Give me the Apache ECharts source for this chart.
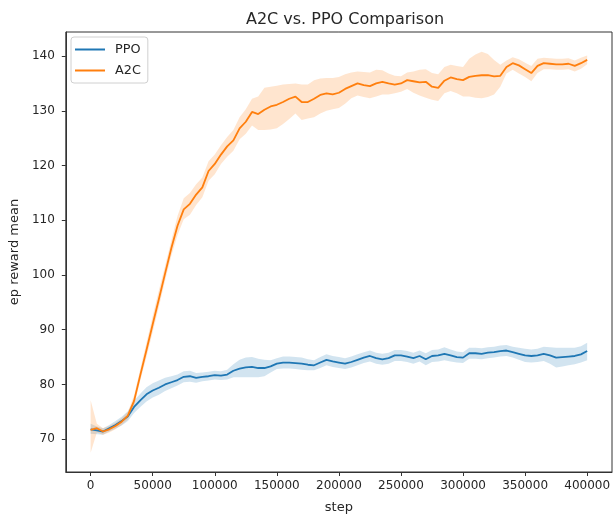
<!DOCTYPE html>
<html>
<head>
<meta charset="utf-8">
<script src="https://cdn.jsdelivr.net/npm/echarts@6/dist/echarts.min.js"></script>
<style>
  html, body { margin: 0; padding: 0; background: #fff; }
  #chart { width: 613px; height: 519px; }
</style>
</head>
<body>
<div id="chart"></div>
<script>
// steps, every 5000 from 0 to 400000
const steps = [
  0, 5000, 10000, 15000, 20000, 25000, 30000, 35000, 40000, 45000,
  50000, 55000, 60000, 65000, 70000, 75000, 80000, 85000, 90000, 95000,
  100000, 105000, 110000, 115000, 120000, 125000, 130000, 135000, 140000, 145000,
  150000, 155000, 160000, 165000, 170000, 175000, 180000, 185000, 190000, 195000,
  200000, 205000, 210000, 215000, 220000, 225000, 230000, 235000, 240000, 245000,
  250000, 255000, 260000, 265000, 270000, 275000, 280000, 285000, 290000, 295000,
  300000, 305000, 310000, 315000, 320000, 325000, 330000, 335000, 340000, 345000,
  350000, 355000, 360000, 365000, 370000, 375000, 380000, 385000, 390000, 395000,
  400000
]

const ppoMean = [
  71.8, 71.6, 71.4, 72.0, 72.6, 73.3, 74.2, 75.9, 77.1, 78.2,
  78.9, 79.4, 80.0, 80.4, 80.8, 81.4, 81.5, 81.2, 81.4, 81.5,
  81.7, 81.6, 81.8, 82.5, 82.9, 83.1, 83.2, 83.0, 83.0, 83.3,
  83.8, 84.0, 84.0, 83.9, 83.8, 83.6, 83.5, 84.0, 84.5, 84.2,
  84.0, 83.8, 84.1, 84.5, 84.9, 85.2, 84.8, 84.6, 84.8, 85.3,
  85.3, 85.1, 84.8, 85.2, 84.6, 85.2, 85.3, 85.6, 85.3, 85.0,
  84.9, 85.7, 85.7, 85.6, 85.8, 85.9, 86.1, 86.2, 85.9, 85.6,
  85.3, 85.2, 85.3, 85.6, 85.3, 84.9, 85.0, 85.1, 85.2, 85.5,
  86.1
]
const ppoLow = [
  71.0, 70.9, 70.8, 71.4, 71.9, 72.5, 73.3, 74.8, 75.9, 76.9,
  77.6, 78.1, 78.8, 79.3, 79.8, 80.4, 80.5, 80.3, 80.6, 80.7,
  80.9, 80.8, 80.9, 81.3, 81.3, 81.3, 81.3, 81.3, 81.5, 82.2,
  82.8, 82.9, 82.9, 82.8, 82.7, 82.6, 82.6, 83.0, 83.5, 83.2,
  83.0, 82.8, 83.1, 83.5, 83.9, 84.2, 83.8, 83.6, 83.8, 84.3,
  84.3, 84.1, 83.8, 84.2, 83.5, 84.1, 84.2, 84.4, 84.2, 84.0,
  83.9, 84.7, 84.7, 84.6, 84.8, 84.9, 85.1, 85.2, 84.9, 84.5,
  84.1, 84.0, 84.1, 84.3, 83.8, 83.1, 83.3, 83.5, 83.7, 84.0,
  84.4
]
const ppoHigh = [
  72.8, 72.3, 72.0, 72.6, 73.3, 74.1, 75.1, 77.0, 78.3, 79.5,
  80.2, 80.7, 81.2, 81.5, 81.8, 82.4, 82.5, 82.1, 82.2, 82.3,
  82.5, 82.4, 82.7, 83.7, 84.5, 84.9, 85.0, 84.7, 84.5, 84.4,
  84.8, 85.1, 85.1, 85.0, 84.9, 84.6, 84.4, 85.0, 85.5, 85.2,
  85.0, 84.8, 85.1, 85.5, 85.9, 86.2, 85.8, 85.6, 85.8, 86.3,
  86.3, 86.1, 85.8, 86.2, 85.7, 86.3, 86.4, 86.8, 86.4, 86.0,
  85.9, 86.7, 86.7, 86.6, 86.8, 86.9, 87.1, 87.2, 86.9, 86.7,
  86.5, 86.4, 86.5, 86.9, 86.8, 86.7, 86.7, 86.7, 86.7, 87.0,
  87.6
]

const a2cMean = [
  71.7, 72.0, 71.4, 71.8, 72.4, 73.2, 74.3, 77.0, 81.7, 86.3,
  91.0, 95.6, 100.3, 104.9, 109.0, 112.0, 113.0, 114.7, 116.0, 119.0,
  120.3, 122.0, 123.5, 124.6, 126.8, 128.0, 129.8, 129.4, 130.2, 130.8,
  131.1, 131.6, 132.2, 132.6, 131.6, 131.6, 132.2, 132.9, 133.2, 133.0,
  133.3, 134.0, 134.5, 135.0, 134.7, 134.5, 135.0, 135.3, 135.0, 134.8,
  135.0, 135.6, 135.4, 135.2, 135.3, 134.4, 134.2, 135.5, 136.1, 135.8,
  135.6, 136.2, 136.4, 136.5, 136.5, 136.3, 136.4, 138.0, 138.7, 138.3,
  137.6, 136.9, 138.2, 138.7, 138.6, 138.5, 138.5, 138.6, 138.2, 138.7,
  139.3
]
const a2cLow = [
  67.5, 71.2, 70.8, 71.2, 71.8, 72.6, 73.6, 76.0, 80.7, 85.0,
  89.6, 94.2, 99.0, 103.5, 107.3, 110.2, 111.0, 112.8, 114.2, 117.2,
  118.4, 120.3, 121.6, 122.7, 124.8, 125.8, 127.3, 126.5, 126.5, 126.6,
  126.8, 127.6, 128.5, 129.5, 128.3, 128.6, 128.8, 129.5, 130.0, 130.3,
  130.5, 131.3, 132.3, 132.8, 132.5, 132.3, 132.6, 133.0, 133.0, 133.2,
  133.5, 134.0, 133.3, 132.8, 132.4, 132.0, 131.8, 133.2, 133.6, 133.2,
  132.6, 132.6, 132.4, 132.3, 132.5, 133.0, 134.4, 136.8, 137.5, 136.8,
  136.2, 135.4, 136.9, 137.6, 137.6, 137.5, 137.5, 137.6, 137.2, 137.7,
  138.5
]
const a2cHigh = [
  77.1, 72.8, 72.0, 72.4, 73.0, 73.8, 75.0, 78.0, 82.8, 87.6,
  92.5, 97.2, 101.7, 106.3, 110.8, 114.0, 115.0, 116.6, 117.8, 120.8,
  122.0, 123.7, 125.2, 126.5, 128.8, 130.3, 132.2, 132.6, 134.2, 134.4,
  134.6, 134.8, 134.9, 135.0, 134.8, 134.8, 135.6, 135.9, 136.0, 136.0,
  136.2, 136.7, 137.0, 137.2, 137.1, 137.0, 137.5, 137.4, 136.8, 136.4,
  136.3, 137.0, 137.2, 137.5, 137.6, 136.9, 136.7, 138.0, 138.4, 138.2,
  138.0, 139.5, 140.3, 140.8, 140.4, 139.3, 138.4, 139.2, 139.8, 139.4,
  138.8, 138.2, 139.5, 139.7, 139.6, 139.5, 139.5, 139.6, 139.2, 139.7,
  140.1
]

const xTicks = [0, 50000, 100000, 150000, 200000, 250000, 300000, 350000, 400000]
const yTicks = [70, 80, 90, 100, 110, 120, 130, 140]

const BLUE = '#1f77b4'
const ORANGE = '#ff7f0e'
const FONT = 'DejaVu Sans'

const pairs = (ys) => steps.map((s, i) => [s, ys[i]])

// filled band between low and high, drawn as one polygon through the axis scales
const band = (name, lo, hi, fill) => ({
  name: name, type: 'custom', silent: true, z: 1,
  coordinateSystem: 'cartesian2d',
  data: [[steps[0], lo[0]]],
  renderItem: (params, api) => {
    const top = steps.map((s, i) => api.coord([s, hi[i]]))
    const bottom = steps.map((s, i) => api.coord([s, lo[i]])).reverse()
    return {
      type: 'polygon',
      shape: { points: top.concat(bottom) },
      style: { fill: fill, stroke: null }
    }
  }
})

const chart = echarts.init(document.getElementById('chart'))
chart.setOption({
  animation: false,
  backgroundColor: '#fff',
  textStyle: { fontFamily: FONT },
  title: {
    text: 'A2C vs. PPO Comparison',
    left: 340, top: 7, textAlign: 'center',
    textStyle: { fontFamily: FONT, fontSize: 16, fontWeight: 'normal', color: '#262626' }
  },
  legend: {
    data: [
      { name: 'PPO', icon: 'rect' },
      { name: 'A2C', icon: 'rect' }
    ],
    orient: 'vertical',
    left: 71, top: 37,
    itemWidth: 30, itemHeight: 2, itemGap: 8,
    padding: [6, 7, 6, 4],
    borderColor: '#d0d0d0', borderWidth: 1, borderRadius: 3,
    backgroundColor: '#fff',
    textStyle: { fontFamily: FONT, fontSize: 12.8, color: '#262626', padding: [0, 0, 0, 5] }
  },
  grid: {
    left: 64, top: 32, width: 550, height: 442,
    show: true, borderColor: '#333', borderWidth: 1
  },
  xAxis: {
    type: 'value', min: -20000, max: 420000,
    name: 'step', nameLocation: 'middle', nameGap: 29,
    nameTextStyle: { fontFamily: FONT, fontSize: 13, color: '#262626' },
    splitLine: { show: false },
    axisLine: { onZero: false, lineStyle: { color: '#333' } },
    axisTick: { customValues: xTicks, length: 4, lineStyle: { color: '#333' } },
    axisLabel: {
      customValues: xTicks, margin: 8, fontSize: 12, color: '#262626',
      formatter: (v) => String(v)
    }
  },
  yAxis: {
    type: 'value', min: 64, max: 144.4,
    name: 'ep reward mean', nameLocation: 'middle', nameGap: 42,
    nameTextStyle: { fontFamily: FONT, fontSize: 13, color: '#262626' },
    splitLine: { show: false },
    axisLine: { show: true, onZero: false, lineStyle: { color: '#333' } },
    axisTick: { show: true, customValues: yTicks, length: 4, lineStyle: { color: '#333' } },
    axisLabel: {
      customValues: yTicks, margin: 11, fontSize: 12, color: '#262626',
      formatter: (v) => String(v)
    }
  },
  series: [
    band('ppoBand', ppoLow, ppoHigh, 'rgba(31,119,180,0.2)'),
    {
      name: 'PPO', type: 'line', data: pairs(ppoMean), symbol: 'none',
      color: BLUE, lineStyle: { color: BLUE, width: 1.8 }, z: 3
    },
    band('a2cBand', a2cLow, a2cHigh, 'rgba(255,127,14,0.2)'),
    {
      name: 'A2C', type: 'line', data: pairs(a2cMean), symbol: 'none',
      color: ORANGE, lineStyle: { color: ORANGE, width: 1.8 }, z: 4
    }
  ]
})
</script>
</body>
</html>
